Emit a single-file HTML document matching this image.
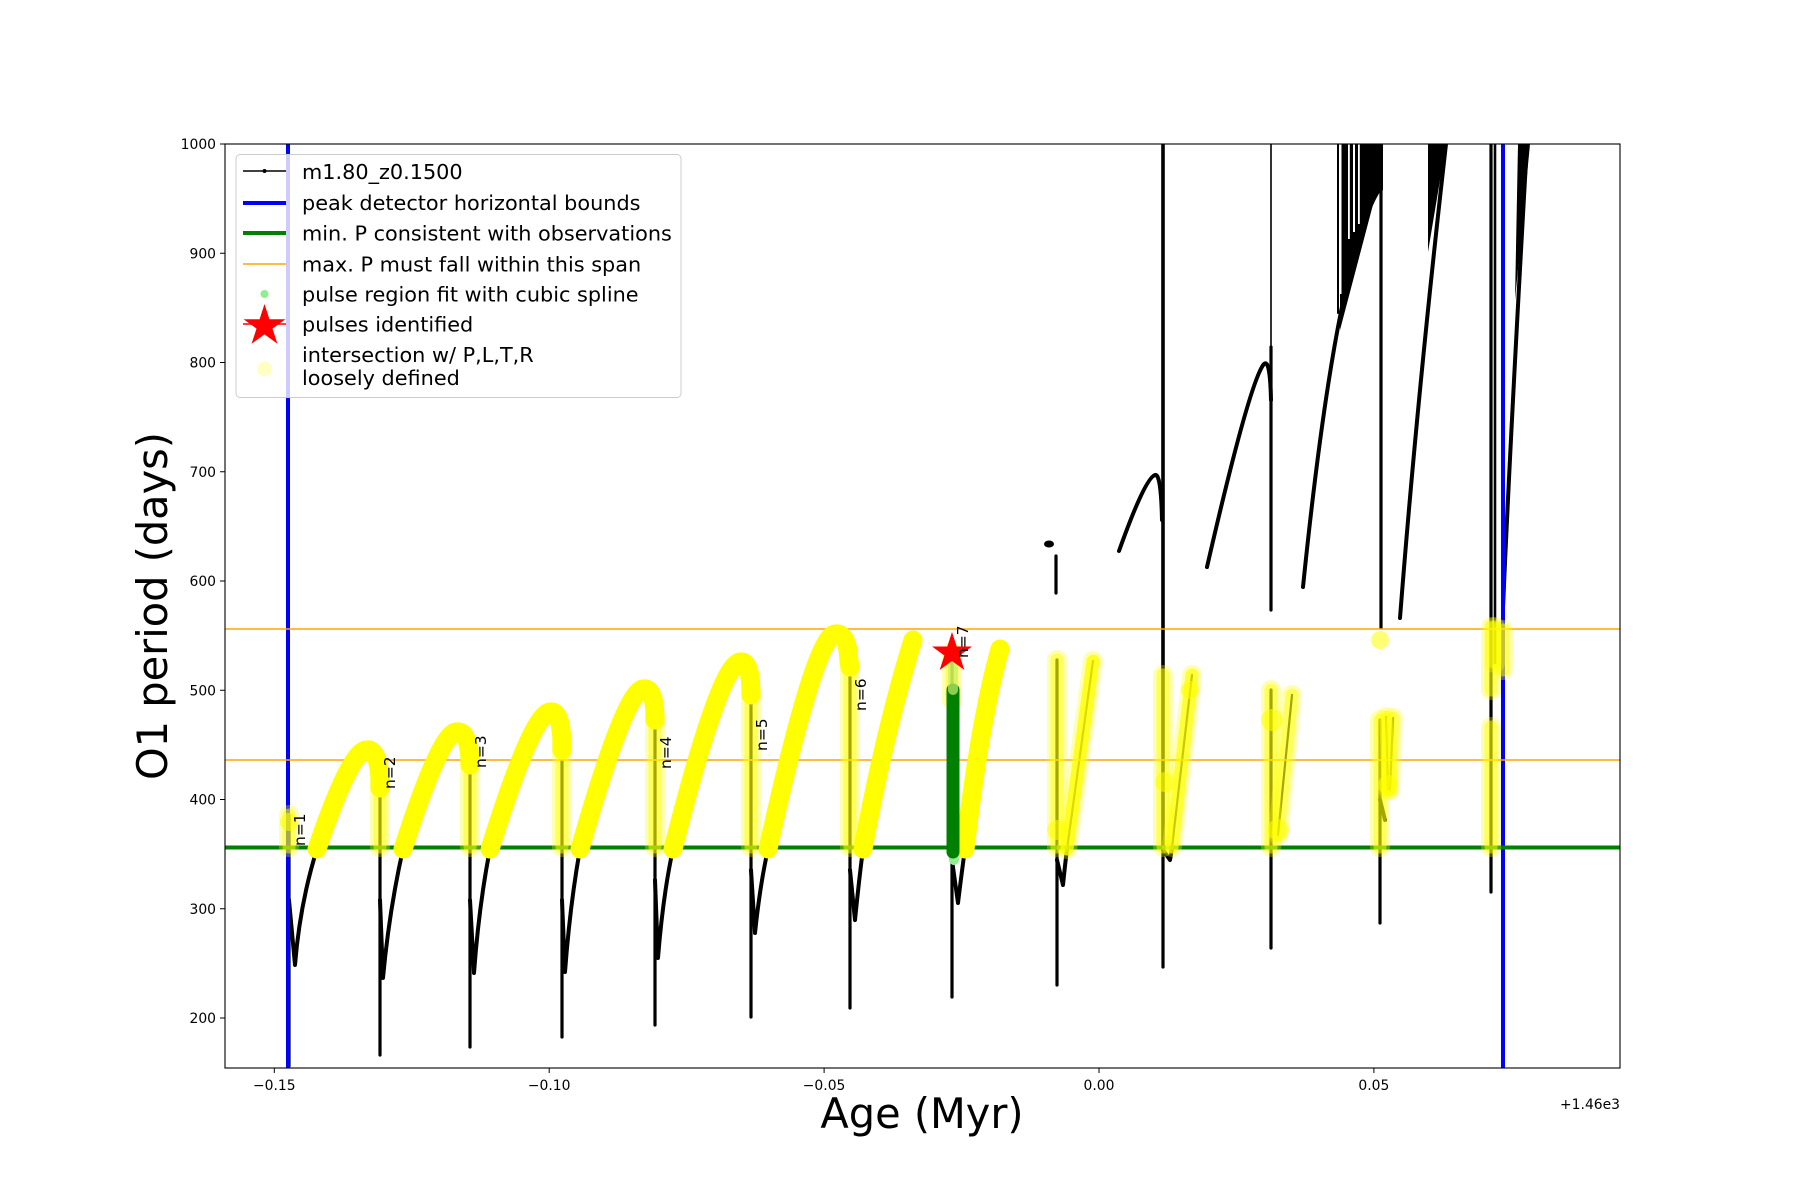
<!DOCTYPE html>
<html>
<head>
<meta charset="utf-8">
<style>
html,body{margin:0;padding:0;background:#fff;}
svg{display:block;}
text{font-family:"DejaVu Sans","Liberation Sans",sans-serif;}
</style>
</head>
<body>
<svg width="1800" height="1200" viewBox="0 0 1800 1200" xmlns="http://www.w3.org/2000/svg">
<defs>
<clipPath id="pa"><rect x="225" y="144" width="1395" height="924"/></clipPath>
<polygon id="star" points="0,-21 -4.71,-6.49 -19.97,-6.49 -7.63,2.48 -12.35,16.99 0,8.02 12.35,16.99 7.63,2.48 19.97,-6.49 4.71,-6.49"/>
<polygon id="star2" points="0,-22 -4.93,-6.8 -20.92,-6.8 -7.99,2.6 -12.93,17.8 0,8.4 12.93,17.8 7.99,2.6 20.92,-6.8 4.93,-6.8"/>
</defs>
<rect width="1800" height="1200" fill="#fff"/>

<g clip-path="url(#pa)">
<!-- black series -->
<g fill="none" stroke="#000" stroke-linecap="round" stroke-linejoin="round">
  <g stroke-width="3.2">
    <path d="M289,815 L289,1066"/>
    <path d="M380,790 L380,1055"/>
    <path d="M470,767 L470,1047"/>
    <path d="M562,753 L562,1037"/>
    <path d="M655,723 L655,1025"/>
    <path d="M751,698 L751,1017"/>
    <path d="M850,670 L850,1008"/>
    <path d="M952,660 L952,997"/>
    <path d="M1057,660 L1057,985"/>
    <path d="M1163,847 L1163,967"/>
    <path d="M1271,347 L1271,610"/>
    <path d="M1271,690 L1271,948"/>
    <path d="M1381,144 L1381,628"/>
    <path d="M1380,720 L1380,923"/>
    <path d="M1491,144 L1491,892"/>
    <path d="M1056,556 L1056,593"/>
  </g>
  <path d="M1495,144 L1495,663" stroke-width="2.6"/>
  <path d="M1163,144 L1163,847" stroke-width="3.6"/>
  <path d="M1271,144 L1271,347" stroke-width="1.6"/>
  <path d="M1338,144 L1338,313" stroke-width="2"/>
  <g stroke-width="4">
    <path d="M289,900 L295,965 Q300,903 317,849"/>
    <path d="M380,900 L383,978 Q389,912 403,849"/>
    <path d="M470,900 L474,973 Q479,905 490,849"/>
    <path d="M562,900 L565,972 Q570,905 580,849"/>
    <path d="M655,880 L658,958 Q663,895 673,849"/>
    <path d="M751,870 L755,933 Q760,885 768,849"/>
    <path d="M850,870 L855,920 Q859,880 863,849"/>
    <path d="M952,860 L958,903 Q962,870 965,849"/>
    <path d="M1057,860 L1063,885 Q1065,865 1067,849"/>
    <path d="M1163,850 L1170,860 Q1171,855 1172,847"/>
    <path d="M1380,800 L1385,820"/>
    <path d="M1119,551 Q1145,478 1155,475 Q1161,473 1162,520"/>
    <path d="M1207,567 Q1250,380 1264,364 Q1270,358 1271,400"/>
    <path d="M1303,587 Q1336,264 1377,193"/>
    <path d="M1400,618 Q1417,399 1446,144"/>
    <path d="M1503,607 Q1511,424 1527,144"/>
  </g>
  <g stroke-width="2.2">
    <path d="M1067,849 L1093,661"/>
    <path d="M1172,847 L1192,675"/>
    <path d="M1278,835 L1292,695"/>
    <path d="M1386,717 L1388,790"/>
    <path d="M1393,718 L1390,790"/>
  </g>
</g>
<ellipse cx="1049" cy="544" rx="5" ry="3.5" fill="#000"/>
<!-- fans -->
<polygon points="1340,144 1383,144 1383,190 1375,197 1340,330" fill="#000"/>
<rect x="1339.5" y="144" width="2" height="150" fill="#fff"/>
<rect x="1348" y="144" width="1.8" height="95" fill="#fff"/>
<rect x="1353" y="144" width="2" height="88" fill="#fff"/>
<rect x="1358" y="144" width="1.8" height="80" fill="#fff"/>
<polygon points="1428,144 1446,144 1428,252" fill="#000"/>
<polygon points="1518,144 1530,144 1515,300" fill="#000"/>

<!-- reference lines -->
<line x1="288" y1="144" x2="288" y2="1068" stroke="#0000ff" stroke-width="4"/>
<line x1="1503" y1="144" x2="1503" y2="1068" stroke="#0000ff" stroke-width="4"/>
<line x1="225" y1="847.5" x2="1620" y2="847.5" stroke="#008000" stroke-width="4"/>
<line x1="225" y1="629" x2="1620" y2="629" stroke="#ffa500" stroke-width="1.6"/>
<line x1="225" y1="760" x2="1620" y2="760" stroke="#ffa500" stroke-width="1.6"/>

<!-- semi-transparent yellow (loosely defined) -->
<g fill="none" stroke="#ffff00" stroke-linecap="round">
  <g stroke-opacity="0.3" stroke-width="20">
    <path d="M289,815 L289,847"/>
    <path d="M380,780 L380,847"/>
    <path d="M470,760 L470,847"/>
    <path d="M562,745 L562,847"/>
    <path d="M655,718 L655,847"/>
    <path d="M751,692 L751,847"/>
    <path d="M850,665 L850,847"/>
    <path d="M952,652 L952,700"/>
    <path d="M1057,660 L1057,847"/>
    <path d="M1163,675 L1163,847"/>
    <path d="M1271,690 L1271,847"/>
    <path d="M1278,835 L1292,695"/>
    <path d="M1380,720 L1380,847"/>
    <path d="M1386,717 L1388,790"/>
    <path d="M1393,718 L1390,790"/>
    <path d="M1491,627 L1491,690"/>
    <path d="M1491,727 L1491,847"/>
    <path d="M1495,627 L1495,663"/>
    <path d="M1503,630 L1503,670"/>
    <path d="M1067,849 L1093,661"/>
    <path d="M1172,847 L1192,675"/>
  </g>
  <g stroke-opacity="0.5" stroke-width="13">
    <path d="M289,815 L289,847"/>
    <path d="M380,780 L380,847"/>
    <path d="M470,760 L470,847"/>
    <path d="M562,745 L562,847"/>
    <path d="M655,718 L655,847"/>
    <path d="M751,692 L751,847"/>
    <path d="M850,665 L850,847"/>
    <path d="M952,652 L952,700"/>
    <path d="M1057,660 L1057,847"/>
    <path d="M1163,675 L1163,847"/>
    <path d="M1271,690 L1271,847"/>
    <path d="M1278,835 L1292,695"/>
    <path d="M1380,720 L1380,847"/>
    <path d="M1386,717 L1388,790"/>
    <path d="M1393,718 L1390,790"/>
    <path d="M1491,627 L1491,690"/>
    <path d="M1491,727 L1491,847"/>
    <path d="M1495,627 L1495,663"/>
    <path d="M1503,630 L1503,670"/>
    <path d="M1067,849 L1093,661" stroke-opacity="0.8"/>
    <path d="M1172,847 L1192,675" stroke-opacity="0.7"/>
  </g>
</g>
<g fill="#ffff00" fill-opacity="0.55">
  <circle cx="1380" cy="640" r="9"/>
  <circle cx="1272" cy="720" r="11"/>
  <circle cx="1278" cy="830" r="11"/>
  <circle cx="1388" cy="785" r="10"/>
  <circle cx="1057" cy="830" r="10"/>
  <circle cx="1165" cy="782" r="10"/>
  <circle cx="289" cy="822" r="9"/>
  <circle cx="1190" cy="690" r="9"/>
</g>

<!-- solid yellow arcs -->
<g fill="none" stroke="#ffff00" stroke-width="19" stroke-linecap="round" stroke-linejoin="round">
  <path d="M317,849 Q350,752 366,750 Q378,748 380,778 L380,788"/>
  <path d="M403,849 Q440,734 456,732 Q468,730 470,758 L470,765"/>
  <path d="M490,849 Q532,714 550,712 Q561,710 562,743 L562,750"/>
  <path d="M580,849 Q625,691 643,689 Q654,687 655,715 L655,720"/>
  <path d="M673,849 Q720,664 740,662 Q750,660 751,690 L751,695"/>
  <path d="M768,849 Q815,636 835,634 Q848,632 849,662 L850,667"/>
  <path d="M863,849 Q885,730 913,640"/>
  <path d="M965,849 Q980,720 1000,649"/>
</g>

<!-- spline fit region -->
<line x1="953" y1="848" x2="954" y2="860" stroke="#90ee90" stroke-width="10" stroke-linecap="round"/>
<line x1="953" y1="690" x2="953" y2="852" stroke="#008000" stroke-width="13" stroke-linecap="round"/>
<line x1="953" y1="665" x2="953" y2="690" stroke="#c8f06e" stroke-width="10" stroke-linecap="round" stroke-opacity="0.7"/>

<use href="#star" transform="translate(952,653)" fill="#ff0000"/>
</g>

<!-- n labels -->
<g font-size="15.5" fill="#000">
  <text transform="translate(305,846) rotate(-90)">n=1</text>
  <text transform="translate(395,789) rotate(-90)">n=2</text>
  <text transform="translate(486,768) rotate(-90)">n=3</text>
  <text transform="translate(671,769) rotate(-90)">n=4</text>
  <text transform="translate(767,751) rotate(-90)">n=5</text>
  <text transform="translate(866,711) rotate(-90)">n=6</text>
  <text transform="translate(968,658) rotate(-90)">n=7</text>
</g>

<!-- axes frame -->
<rect x="225" y="144" width="1395" height="924" fill="none" stroke="#000" stroke-width="1.1"/>

<!-- x ticks -->
<g stroke="#000" stroke-width="1">
  <line x1="274.3" y1="1068" x2="274.3" y2="1073"/>
  <line x1="549.2" y1="1068" x2="549.2" y2="1073"/>
  <line x1="824.1" y1="1068" x2="824.1" y2="1073"/>
  <line x1="1099" y1="1068" x2="1099" y2="1073"/>
  <line x1="1373.9" y1="1068" x2="1373.9" y2="1073"/>
</g>
<g font-size="13.9" text-anchor="middle" fill="#000">
  <text x="274.3" y="1090">−0.15</text>
  <text x="549.2" y="1090">−0.10</text>
  <text x="824.1" y="1090">−0.05</text>
  <text x="1099" y="1090">0.00</text>
  <text x="1373.9" y="1090">0.05</text>
</g>
<text x="1620" y="1109" font-size="13.9" text-anchor="end">+1.46e3</text>

<!-- y ticks -->
<g stroke="#000" stroke-width="1">
  <line x1="220" y1="144" x2="225" y2="144"/>
  <line x1="220" y1="253.25" x2="225" y2="253.25"/>
  <line x1="220" y1="362.5" x2="225" y2="362.5"/>
  <line x1="220" y1="471.75" x2="225" y2="471.75"/>
  <line x1="220" y1="581" x2="225" y2="581"/>
  <line x1="220" y1="690.25" x2="225" y2="690.25"/>
  <line x1="220" y1="799.5" x2="225" y2="799.5"/>
  <line x1="220" y1="908.75" x2="225" y2="908.75"/>
  <line x1="220" y1="1018" x2="225" y2="1018"/>
</g>
<g font-size="13.9" text-anchor="end" fill="#000">
  <text x="216" y="149">1000</text>
  <text x="216" y="258.3">900</text>
  <text x="216" y="367.5">800</text>
  <text x="216" y="476.8">700</text>
  <text x="216" y="586">600</text>
  <text x="216" y="695.3">500</text>
  <text x="216" y="804.5">400</text>
  <text x="216" y="913.8">300</text>
  <text x="216" y="1023">200</text>
</g>

<!-- axis labels -->
<text x="922" y="1128" font-size="41.5" text-anchor="middle">Age (Myr)</text>
<text transform="translate(167,606) rotate(-90)" font-size="41.5" text-anchor="middle">O1 period (days)</text>

<!-- legend -->
<rect x="236" y="154.5" width="445" height="243" rx="4" ry="4" fill="#fff" fill-opacity="0.8" stroke="#cccccc" stroke-width="1"/>
<line x1="243" y1="171" x2="286" y2="171" stroke="#000" stroke-width="1.5"/>
<circle cx="264.5" cy="171" r="2" fill="#000"/>
<line x1="243" y1="203" x2="286" y2="203" stroke="#0000ff" stroke-width="4"/>
<line x1="243" y1="233" x2="286" y2="233" stroke="#008000" stroke-width="4"/>
<line x1="243" y1="264" x2="286" y2="264" stroke="#ffa500" stroke-width="1.6"/>
<circle cx="264.5" cy="294" r="4" fill="#90ee90"/>
<line x1="243" y1="324" x2="286" y2="324" stroke="#ff0000" stroke-width="1.5"/>
<use href="#star2" transform="translate(264.5,326)" fill="#ff0000"/>
<circle cx="264.5" cy="369" r="7.5" fill="#ffffc4"/>
<g font-size="20.8" fill="#000">
  <text x="302" y="179">m1.80_z0.1500</text>
  <text x="302" y="210">peak detector horizontal bounds</text>
  <text x="302" y="240.5">min. P consistent with observations</text>
  <text x="302" y="271.5">max. P must fall within this span</text>
  <text x="302" y="301.5">pulse region fit with cubic spline</text>
  <text x="302" y="331.5">pulses identified</text>
  <text x="302" y="362">intersection w/ P,L,T,R</text>
  <text x="302" y="385">loosely defined</text>
</g>
</svg>
</body>
</html>
